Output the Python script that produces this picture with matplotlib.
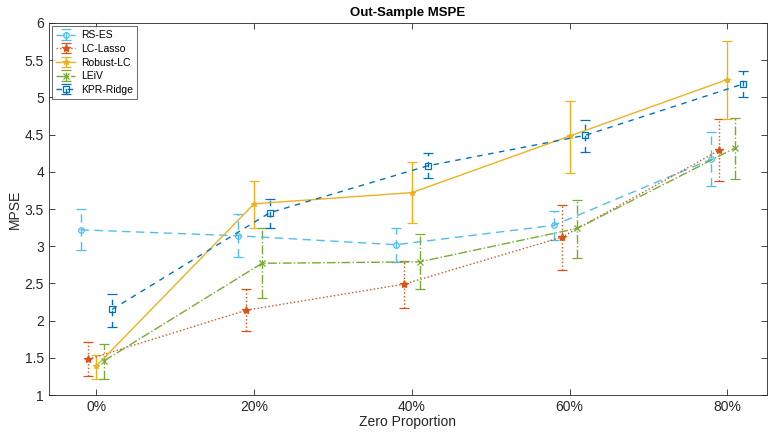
import matplotlib
matplotlib.use("Agg")
import matplotlib.pyplot as plt
import numpy as np

plt.rcParams['font.family'] = ['Liberation Sans', 'DejaVu Sans']

zero_prop = [0, 20, 40, 60, 80]
tick_labels = ['0%', '20%', '40%', '60%', '80%']
methods = ['RS-ES', 'LC-Lasso', 'Robust-LC', 'LEiV', 'KPR-Ridge']
offsets = [-2, -1, 0, 1, 2]

rs_es_mean = [3.22, 3.14, 3.02, 3.28, 4.17]
rs_es_low = [2.95, 2.86, 2.79, 3.08, 3.81]
rs_es_high = [3.50, 3.43, 3.24, 3.47, 4.53]

lc_lasso_mean = [1.48, 2.14, 2.49, 3.12, 4.29]
lc_lasso_low = [1.25, 1.86, 2.17, 2.68, 3.87]
lc_lasso_high = [1.71, 2.42, 2.80, 3.55, 4.71]

robust_lc_mean = [1.39, 3.57, 3.72, 4.48, 5.24]
robust_lc_low = [1.22, 3.24, 3.31, 3.99, 4.71]
robust_lc_high = [1.54, 3.88, 4.13, 4.95, 5.76]

leiv_mean = [1.46, 2.77, 2.79, 3.24, 4.32]
leiv_low = [1.22, 2.30, 2.43, 2.84, 3.90]
leiv_high = [1.68, 3.24, 3.16, 3.62, 4.72]

kpr_mean = [2.15, 3.45, 4.08, 4.49, 5.18]
kpr_low = [1.92, 3.25, 3.92, 4.26, 5.00]
kpr_high = [2.36, 3.64, 4.25, 4.70, 5.36]

means = [rs_es_mean, lc_lasso_mean, robust_lc_mean, leiv_mean, kpr_mean]
lows = [rs_es_low, lc_lasso_low, robust_lc_low, leiv_low, kpr_low]
highs = [rs_es_high, lc_lasso_high, robust_lc_high, leiv_high, kpr_high]

colors = ['#4DBEEE', '#D95319', '#EDB120', '#77AC30', '#0072BD']
styles = [(0, (6, 4)), ':', '-', '-.', (0, (4, 4))]
markers = ['o', '*', '*', 'x', 's']
msizes = [4, 6, 4, 4, 4]
mfc = ['none', None, None, None, 'none']

fig = plt.figure(figsize=(7.69, 4.32), dpi=100)
ax = fig.add_axes([0.0637, 0.0856, 0.9333, 0.8612])

for i, name in enumerate(methods):
    x = np.array(zero_prop) + offsets[i]
    m = np.array(means[i])
    lo = m - np.array(lows[i])
    hi = np.array(highs[i]) - m
    kw = dict(markerfacecolor=mfc[i]) if mfc[i] else {}
    eb = ax.errorbar(x, m, yerr=[lo, hi], color=colors[i], linestyle=styles[i],
                     marker=markers[i], markersize=msizes[i], linewidth=1.0,
                     elinewidth=1.0, capsize=3.5, capthick=1.0, label=name,
                     markeredgewidth=0.9, **kw)
    for lc in eb[2]:
        lc.set_linestyle(styles[i])

ax.set_xlim(-6, 85)
ax.set_ylim(1, 6)
ax.set_xticks(zero_prop)
ax.set_xticklabels(tick_labels)
ax.set_yticks(np.arange(1, 6.01, 0.5))
ax.set_yticklabels(['1', '1.5', '2', '2.5', '3', '3.5', '4', '4.5', '5', '5.5', '6'])
ax.tick_params(direction='in', top=True, right=True, labelsize=10, colors='#262626',
               length=4, width=0.6)
for s in ax.spines.values():
    s.set_color('#262626')
    s.set_linewidth(0.6)
ax.set_xlabel('Zero Proportion', fontsize=10, color='#262626', labelpad=1)
ax.set_ylabel('MPSE', fontsize=10, color='#262626', labelpad=2)
ax.set_title('Out-Sample MSPE', fontsize=9.5, fontweight='bold', color='#000000', pad=5)

leg = ax.legend(loc='upper left', fontsize=7.5, frameon=True, fancybox=False,
                edgecolor='#262626', borderaxespad=0.3, handlelength=1.8,
                handletextpad=0.6, labelspacing=0.35, borderpad=0.4)
leg.get_frame().set_linewidth(0.6)

fig.savefig('out.png', dpi=100)
